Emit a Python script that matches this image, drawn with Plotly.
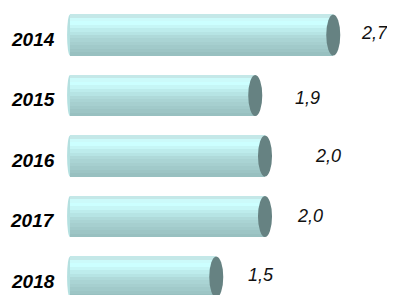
import plotly.graph_objects as go

years = ["2014", "2015", "2016", "2017", "2018"]
values = [2.7, 1.9, 2.0, 2.0, 1.5]
value_labels = ["2,7", "1,9", "2,0", "2,0", "1,5"]

# styling / placement helpers (pixels)
label_dx = [26, 38, 48, 30, 30]
label_dy = [2, -2, 0, 1, 2]

stripe_colors = ['#c4e8e8', '#ccfafa', '#ccffff', '#c6f6f6', '#bdecec', '#b6e4e4',
                 '#afdada', '#aad4d4', '#a6cfcf', '#a1caca', '#9dc5c5', '#98c0c0']
bar_h = 0.68
cap_hw = 0.072
n = len(stripe_colors)
sh = bar_h / n

pos = list(range(len(years)))
fig = go.Figure()
for k, c in enumerate(stripe_colors):
    fig.add_trace(go.Bar(
        x=values, y=pos, orientation='h', width=sh * 1.02, offset=-bar_h / 2 + k * sh,
        marker=dict(color=c, line=dict(width=0)), hoverinfo='skip', showlegend=False))

shapes = []
annotations = []
for i, (yr, v, lab) in enumerate(zip(years, values, value_labels)):
    shapes.append(dict(type='circle', xref='x', yref='y', layer='below',
                       x0=-0.03, x1=0.03, y0=i - bar_h / 2, y1=i + bar_h / 2,
                       fillcolor='#b4e0e0', line=dict(width=0)))
    shapes.append(dict(type='circle', xref='x', yref='y', layer='above',
                       x0=v - cap_hw, x1=v + cap_hw, y0=i - bar_h / 2, y1=i + bar_h / 2,
                       fillcolor='#668282', line=dict(width=0)))
    annotations.append(dict(x=0, y=i, xref='x', yref='y', text=f"<b><i>{yr}</i></b>",
                            showarrow=False, xanchor='right', yanchor='middle',
                            xshift=-13, yshift=-4,
                            font=dict(family='Liberation Sans, Arial', size=19, color='#000000')))
    annotations.append(dict(x=v, y=i, xref='x', yref='y', text=f"<i>{lab}</i>",
                            showarrow=False, xanchor='left', yanchor='middle',
                            xshift=label_dx[i], yshift=label_dy[i],
                            font=dict(family='Liberation Sans, Arial', size=18, color='#111111')))

# page offset compensation (browser body margin)
off = 8
ppu_x = 97.5
ppu_y = 60.5
W, H = 395 - off, 295 - off
l_m, t_m = 52, 0
zero_px = 70 - off
c0_px = 35 - off
x0 = -(zero_px - l_m) / ppu_x
x1 = x0 + (W - l_m) / ppu_x
ytop = -(c0_px - t_m) / ppu_y
ybot = ytop + (H - t_m) / ppu_y

fig.update_layout(
    width=W, height=H, barmode='overlay', bargap=0,
    margin=dict(l=l_m, r=0, t=t_m, b=0, pad=0),
    paper_bgcolor='white', plot_bgcolor='white',
    xaxis=dict(range=[x0, x1], visible=False, fixedrange=True),
    yaxis=dict(range=[ybot, ytop], visible=False, fixedrange=True),
    shapes=shapes, annotations=annotations, showlegend=False,
)
fig.write_html("out.html", config=dict(displayModeBar=False))
